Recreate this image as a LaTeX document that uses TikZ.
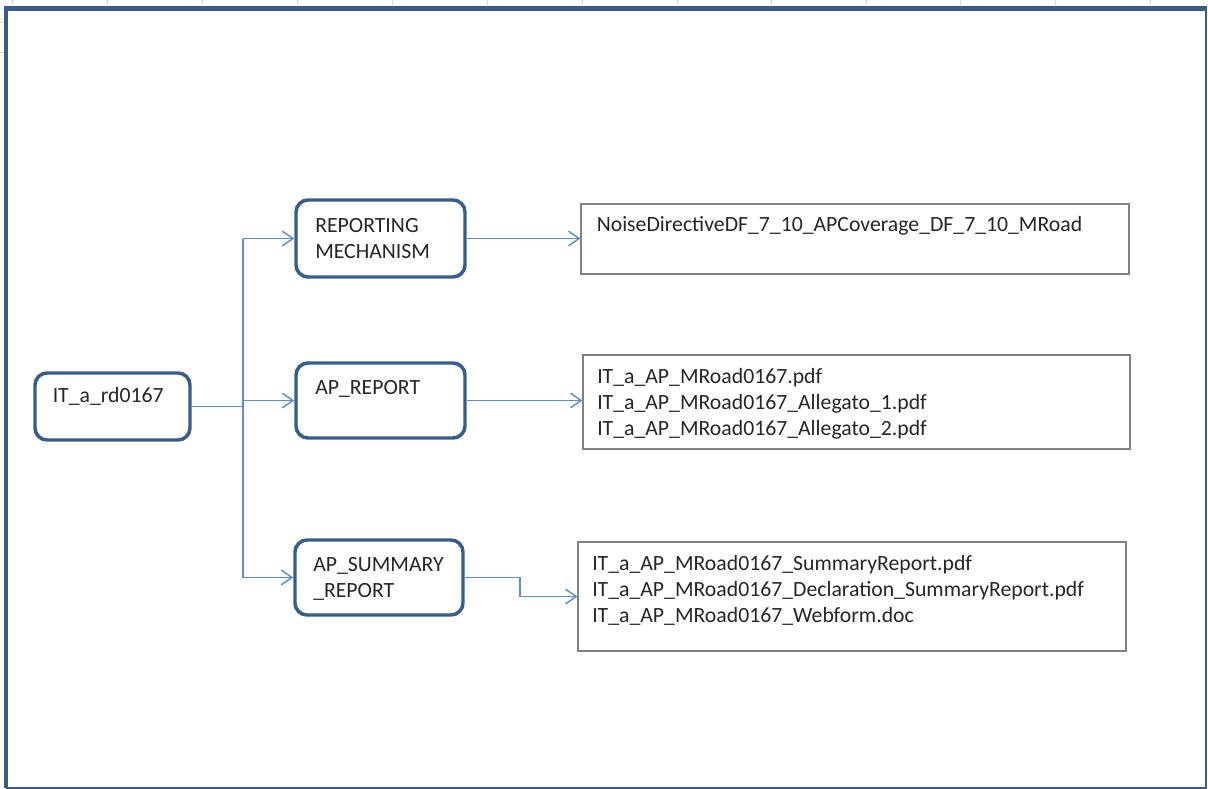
\documentclass[tikz,border=0pt]{standalone}
\usepackage{fontspec}
\setmainfont{Carlito}
\usetikzlibrary{arrows.meta,calc}
\definecolor{boxblue}{RGB}{56,93,138}
\definecolor{connblue}{RGB}{95,140,205}
\definecolor{boxgrey}{RGB}{128,128,128}
\definecolor{tickgrey}{RGB}{218,218,218}
\tikzset{
  rbox/.style={draw=boxblue, line width=2.6pt, rounded corners=9pt, fill=white, inner sep=0pt},
  fbox/.style={draw=boxgrey, line width=0.8pt, fill=white, inner sep=0pt},
  txt/.style={anchor=base west, inner sep=0pt, font=\fontsize{16.3pt}{19.5pt}\selectfont, text=black!85},
  conn/.style={draw=connblue, line width=1.1pt},
  arr/.style={conn, -{Straight Barb[length=8pt,width=11pt,line width=1.1pt]}},
}
\begin{document}
\begin{tikzpicture}[x=0.75pt,y=-0.75pt]
\useasboundingbox (0,0) rectangle (1208,789);
% faint grid ticks
\foreach \xx in {12,107,202,297,392,487,582,677,771,866,960,1055,1150}
  \draw[tickgrey, line width=0.6pt] (\xx,0) -- (\xx,5);
\foreach \yy in {22,52}
  \draw[tickgrey, line width=0.6pt] (0,\yy) -- (4,\yy);
% frame
\draw[boxblue, line width=1.6pt] (6,787.8) -- (1206,787.8) -- (1206,8.3);
\draw[boxblue, line width=3.4pt] (6,788) -- (6,8.3) -- (1207,8.3);

% rounded boxes
\node[rbox, minimum width=116.25pt, minimum height=50.25pt] (it) at (112.5,406.5) {};
\node[rbox, minimum width=126.75pt, minimum height=57.75pt] (rm) at (380.5,238.5) {};
\node[rbox, minimum width=126.75pt, minimum height=56.25pt] (apr) at (380.5,400.5) {};
\node[rbox, minimum width=126pt, minimum height=56.25pt] (aps) at (379,577.5) {};
% file boxes
\node[fbox, minimum width=411pt, minimum height=52.5pt] (b1) at (855,239) {};
\node[fbox, minimum width=410.25pt, minimum height=70.5pt] (b2) at (856.5,402) {};
\node[fbox, minimum width=411pt, minimum height=81.75pt] (b3) at (852,596.5) {};

% texts
\node[txt] (tit) at (52.5,402.5) {IT\_a\_rd0167};
\node[txt] (trm1) at (315,232) {REPORTING};
\node[txt] (trm2) at (315,258) {MECHANISM};
\node[txt] (tapr) at (315,394) {AP\_REPORT};
\node[txt] (taps1) at (313,571) {AP\_SUMMARY};
\node[txt] (taps2) at (313,597) {\_REPORT};
\node[txt] (tb1) at (596.5,231) {NoiseDirectiveDF\_7\_10\_APCoverage\_DF\_7\_10\_MRoad};
\node[txt] (tb21) at (597,383) {IT\_a\_AP\_MRoad0167.pdf};
\node[txt] (tb22) at (597,409) {IT\_a\_AP\_MRoad0167\_Allegato\_1.pdf};
\node[txt] (tb23) at (597,435) {IT\_a\_AP\_MRoad0167\_Allegato\_2.pdf};
\node[txt] (tb31) at (592,570) {IT\_a\_AP\_MRoad0167\_SummaryReport.pdf};
\node[txt] (tb32) at (592,596) {IT\_a\_AP\_MRoad0167\_Declaration\_SummaryReport.pdf};
\node[txt] (tb33) at (592,622) {IT\_a\_AP\_MRoad0167\_Webform.doc};

% connectors
\coordinate (j) at (243,406.5);
\coordinate (k) at (520,0);
\draw[conn] (it.east) -- (j);
\draw[conn] (j |- rm.west) -- (j |- aps.west);
\draw[arr] (j |- rm.west) -- (rm.west);
\draw[arr] (j |- apr.west) -- (apr.west);
\draw[arr] (j |- aps.west) -- (aps.west);
\draw[arr] (rm.east) -- (rm.east -| b1.west);
\draw[arr] (apr.east) -- (apr.east -| b2.west);
\draw[arr] (aps.east) -- (aps.east -| k) |- (b3.west);
\end{tikzpicture}
\end{document}
